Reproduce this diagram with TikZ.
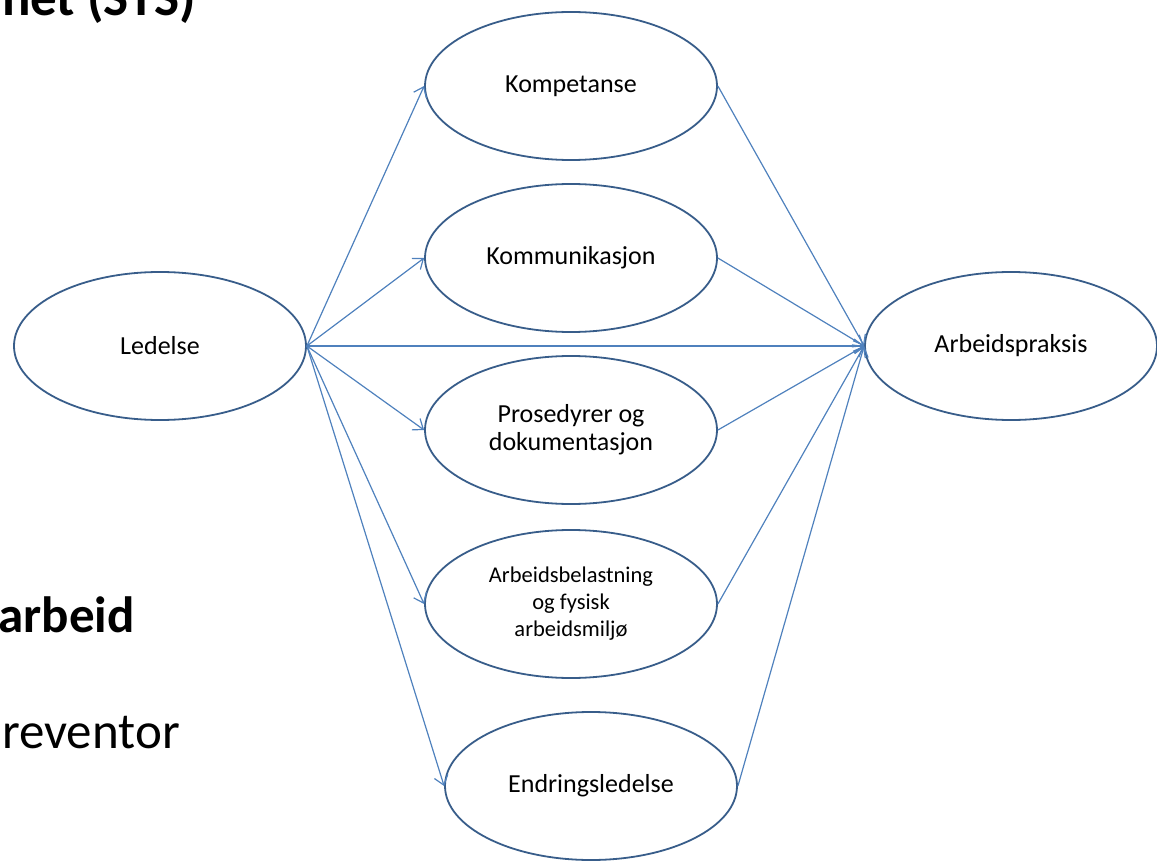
\documentclass[tikz,border=0pt]{standalone}
\usepackage{fontspec}
\setmainfont{Carlito}
\usetikzlibrary{shapes.geometric, arrows.meta}
\definecolor{ovalblue}{HTML}{385D8A}
\definecolor{arrowblue}{HTML}{4F81BD}

\begin{document}
\begin{tikzpicture}[x=1pt, y=-1pt,
    oval/.style={ellipse, draw=ovalblue, line width=1.8pt, minimum width=292pt,
      minimum height=148pt, inner sep=0pt, align=center,
      font=\fontsize{26}{28}\selectfont},
    link/.style={arrowblue, line width=1.2pt, -{Straight Barb[length=9pt, width=14pt]}},
    slide/.style={anchor=base east, inner sep=0pt, font=\fontsize{51}{51}\selectfont}]
    \useasboundingbox (0,0) rectangle (1157,861);
    \node[slide, font=\fontsize{53}{53}\selectfont\bfseries] (title) at (196,16) {het (STS)};
    \node[slide, font=\fontsize{51}{51}\selectfont\bfseries] (arbeid) at (135,632) {arbeid};
    \node[slide] (preventor) at (180,748) {reventor};
    \node[oval] (ledelse) at (160,346) {Ledelse};
    \node[oval] (kompetanse) at (571,86) {Kompetanse};
    \node[oval] (kommunikasjon) at (571,258) {Kommunikasjon};
    \node[oval] (prosedyrer) at (571,430) {Prosedyrer og\\dokumentasjon};
    \node[oval, font=\fontsize{22.5}{27}\selectfont] (belastning) at (571,604)
      {Arbeidsbelastning\\og fysisk\\arbeidsmiljø};
    \node[oval] (endring) at (591,786) {Endringsledelse};
    \node[oval] (praksis) at (1011,346) {Arbeidspraksis};
    \foreach \n in {kompetanse, kommunikasjon, prosedyrer, belastning, endring}
      \draw[link] (ledelse.east) -- (\n.west);
    \foreach \n in {kompetanse, kommunikasjon, prosedyrer, belastning, endring}
      \draw[link] (\n.east) -- (praksis.west);
    \draw[link] (ledelse.east) -- (praksis.west);
\end{tikzpicture}
\end{document}
